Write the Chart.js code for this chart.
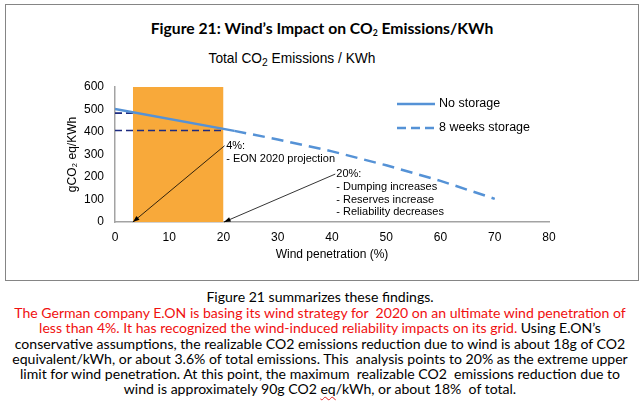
<!DOCTYPE html>
<html>
<head>
<meta charset="utf-8">
<script src="https://cdn.jsdelivr.net/npm/chart.js@4.4.1/dist/chart.umd.min.js"></script>
<style>
  html, body { margin: 0; padding: 0; background: #fff; }
  body { width: 640px; height: 402px; position: relative; overflow: hidden; }
  #frame { position: absolute; left: 5px; top: 4px; width: 634px; height: 277px; box-sizing: border-box; border: 1.5px solid #858585; }
  #wrap { position: absolute; left: 0; top: 0; width: 640px; height: 280px; }
  .fit { position: absolute; white-space: pre; text-align: center; }
  .fit span { display: inline-block; }
  #title { left: 22px; width: 600px; top: 17px; font-family: 'Lato', 'Open Sans', sans-serif; font-weight: 700; font-size: 16px; line-height: 22px; color: #000; }
  #subtitle { left: 92px; width: 400px; top: 50px; font-family: 'Liberation Sans Narrow', 'Liberation Sans', sans-serif; font-size: 14px; line-height: 18px; color: #000; }
  #title sub { font-size: 55%; vertical-align: -2px; line-height: 0; }
  #subtitle sub { font-size: 75%; vertical-align: -3px; line-height: 0; }
  #para { position: absolute; left: 0; width: 640px; top: 289px; font-family: 'Lato', 'Open Sans', sans-serif; font-size: 13px; line-height: 15.2px; color: #000; text-align: center; white-space: pre; }
  #para .first { line-height: 16.2px; }
  #para .r { color: #f01010; }
  #para .sq { text-decoration: underline wavy #e02020; text-decoration-thickness: 1px; text-underline-offset: 2px; }
</style>
</head>
<body>
<div id="frame"></div>
<div id="title" class="fit"><span data-w="343">Figure 21: Wind’s Impact on CO<sub>2</sub> Emissions/KWh</span></div>
<div id="subtitle" class="fit"><span data-w="167">Total CO<sub>2</sub> Emissions / KWh</span></div>
<div id="wrap"><canvas id="chart"></canvas></div>
<div id="para"><div class="first">Figure 21 summarizes these findings.</div><div class="r" id="wide">The German company E.ON is basing its wind strategy for  2020 on an ultimate wind penetration of</div><div><span class="r">less than 4%. It has recognized the wind-induced reliability impacts on its grid.</span> Using E.ON’s</div><div>conservative assumptions, the realizable CO2 emissions reduction due to wind is about 18g of CO2</div><div>equivalent/kWh, or about 3.6% of total emissions. This  analysis points to 20% as the extreme upper</div><div>limit for wind penetration. At this point, the maximum  realizable CO2  emissions reduction due to</div><div>wind is approximately 90g CO2 <span class="sq">eq</span>/kWh, or about 18%  of total.</div></div>

<script>
// axis ticks
const xTicks = [0, 10, 20, 30, 40, 50, 60, 70, 80];
const yTicks = [0, 100, 200, 300, 400, 500, 600];

// series (x = wind penetration %, y = gCO2 eq/KWh)
const noStorageX = [0, 22];
const noStorageY = [502, 405];
const storageX = [22, 30, 40, 50, 60, 70];
const storageY = [405, 367, 314, 252, 183, 103];

// highlighted band 4% .. 20%
const bandX = [3.3, 20];
const bandY = [600, 600];

// dark dashed reference lines
const ref4X = [0, 3.3];
const ref4Y = [484, 484];
const ref20X = [0, 20];
const ref20Y = [407, 407];

// callouts
const arrow4From = [20.2, 339];
const arrow4To = [3.3, 0];
const arrow20From = [40.6, 213];
const arrow20To = [20.1, 0];
const note4At = [20.5, 338];
const note4Lines = ['4%:', '- EON 2020 projection'];
const note20At = [40.8, 212];
const note20Lines = ['20%:', '- Dumping increases', '- Reserves increase', '- Reliability decreases'];

const legendNames = ['No storage', '8 weeks storage'];

const FONT = "'Liberation Sans', Arial, sans-serif";
const BLUE = '#5592d6';
const NAVY = '#1d2b80';
const ORANGE = '#f8a93a';

function pts(xs, ys) { return xs.map((x, i) => ({ x: x, y: ys[i] })); }

function fitText() {
  document.querySelectorAll('.fit span').forEach(sp => {
    const target = +sp.dataset.w;
    const el = sp.parentElement;
    const fs = parseFloat(getComputedStyle(el).fontSize);
    el.style.fontSize = (fs * target / sp.getBoundingClientRect().width) + 'px';
  });
  const para = document.getElementById('para');
  const wide = document.getElementById('wide');
  const r = document.createRange();
  r.selectNodeContents(wide);
  const w = r.getBoundingClientRect().width;
  const fs = parseFloat(getComputedStyle(para).fontSize);
  para.style.fontSize = (fs * 612 / w) + 'px';
}
fitText();

const calloutPlugin = {
  id: 'callouts',
  afterDatasetsDraw(chart) {
    const { ctx, scales: { x, y } } = chart;
    const px = p => [x.getPixelForValue(p[0]), y.getPixelForValue(p[1])];
    function arrow(from, to) {
      const [x1, y1] = px(from), [x2, y2] = px(to);
      const a = Math.atan2(y2 - y1, x2 - x1);
      ctx.save();
      ctx.strokeStyle = '#000';
      ctx.fillStyle = '#000';
      ctx.lineWidth = 0.8;
      ctx.beginPath();
      ctx.moveTo(x1, y1);
      ctx.lineTo(x2, y2);
      ctx.stroke();
      ctx.beginPath();
      ctx.moveTo(x2, y2);
      ctx.lineTo(x2 - 7 * Math.cos(a - 0.35), y2 - 7 * Math.sin(a - 0.35));
      ctx.lineTo(x2 - 7 * Math.cos(a + 0.35), y2 - 7 * Math.sin(a + 0.35));
      ctx.closePath();
      ctx.fill();
      ctx.restore();
    }
    function note(at, lines) {
      const [tx, ty] = px(at);
      ctx.save();
      ctx.fillStyle = '#000';
      ctx.font = '11px ' + FONT;
      ctx.textAlign = 'left';
      ctx.textBaseline = 'middle';
      lines.forEach((l, i) => ctx.fillText(l, tx, ty + i * 12.6));
      ctx.restore();
    }
    arrow(arrow4From, arrow4To);
    arrow(arrow20From, arrow20To);
    note(note4At, note4Lines);
    note(note20At, note20Lines);

    // legend box inside the plot
    ctx.save();
    ctx.lineWidth = 2.5;
    ctx.strokeStyle = BLUE;
    ctx.beginPath(); ctx.moveTo(397, 104); ctx.lineTo(435, 104); ctx.stroke();
    ctx.setLineDash([9, 5]);
    ctx.beginPath(); ctx.moveTo(397, 128); ctx.lineTo(435, 128); ctx.stroke();
    ctx.setLineDash([]);
    ctx.fillStyle = '#000';
    ctx.font = '12.5px ' + FONT;
    ctx.textBaseline = 'middle';
    ctx.fillText(legendNames[0], 439, 104);
    ctx.fillText(legendNames[1], 439, 128);
    ctx.restore();
  }
};

new Chart(document.getElementById('chart'), {
  type: 'line',
  data: {
    datasets: [
      { label: legendNames[0], data: pts(noStorageX, noStorageY), borderColor: BLUE, borderWidth: 2.5, pointRadius: 0, tension: 0, order: 1 },
      { label: legendNames[1], data: pts(storageX, storageY), borderColor: BLUE, borderWidth: 2.5, borderDash: [12, 7], pointRadius: 0, tension: 0, order: 2 },
      { label: 'ref4', data: pts(ref4X, ref4Y), borderColor: NAVY, borderWidth: 1.6, borderDash: [7, 4], pointRadius: 0, order: 3 },
      { label: 'ref20', data: pts(ref20X, ref20Y), borderColor: NAVY, borderWidth: 1.6, borderDash: [7, 4], pointRadius: 0, order: 4 },
      { label: 'band', data: pts(bandX, bandY), borderWidth: 0, borderColor: ORANGE, backgroundColor: ORANGE, fill: 'origin', pointRadius: 0, order: 10 }
    ]
  },
  options: {
    responsive: true,
    maintainAspectRatio: false,
    animation: false,
    layout: { padding: { left: 60, right: 91, top: 87, bottom: 0 } },
    plugins: { legend: { display: false }, tooltip: { enabled: false } },
    scales: {
      x: {
        type: 'linear', min: 0, max: 80,
        afterBuildTicks: s => { s.ticks = xTicks.map(v => ({ value: v })); },
        afterFit: s => { s.height = 58; },
        grid: { display: false, drawTicks: false },
        border: { color: '#a3a3a3', width: 1.5 },
        ticks: { color: '#000', font: { family: FONT, size: 12 }, padding: 8, maxRotation: 0 },
        title: { display: true, text: 'Wind penetration (%)', color: '#000', font: { family: FONT, size: 12 }, padding: { top: 0, bottom: 18 } }
      },
      y: {
        min: 0, max: 600,
        afterBuildTicks: s => { s.ticks = yTicks.map(v => ({ value: v })); },
        afterFit: s => { s.width = 55; },
        grid: { display: false, drawTicks: false },
        border: { color: '#a3a3a3', width: 1.5 },
        ticks: { color: '#000', font: { family: FONT, size: 12 }, padding: 11 },
        title: { display: true, text: 'gCO₂ eq/KWh', color: '#000', font: { family: FONT, size: 12 }, padding: { top: 5, bottom: 0 } }
      }
    }
  },
  plugins: [calloutPlugin]
});
</script>
</body>
</html>
